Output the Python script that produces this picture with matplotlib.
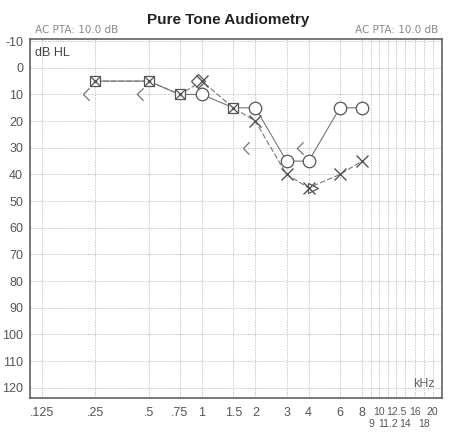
import matplotlib
matplotlib.use('Agg')

import matplotlib.pyplot as plt
from matplotlib.path import Path
from matplotlib.ticker import FixedLocator, FixedFormatter

# audiogram values (kHz / dB HL)
freqs = [0.25, 0.5, 0.75, 1, 1.5, 2, 3, 4, 6, 8]
right_air = [5, 5, 10, 10, 15, 15, 35, 35, 15, 15]
left_air = [5, 5, 10, 5, 15, 20, 40, 45, 40, 35]

bone_freqs = [0.25, 0.5, 2, 4]
right_bone = [10, 10, 30, 30]

extra_freqs = [1, 4]
extra_vals = [5, 45]

tick_freqs = [0.125, 0.25, 0.5, 0.75, 1, 1.5, 2, 3, 4, 6, 8, 10, 12.5, 16, 20]
tick_labels = ['.125', '.25', '.5', '.75', '1', '1.5', '2', '3', '4', '6', '8',
               '10', '12.5', '16', '20']
minor_freqs = [9, 11.2, 14, 18]
minor_labels = ['9', '11.2', '14', '18']
db_ticks = list(range(-10, 121, 10))

plt.rcParams['font.family'] = ['Liberation Sans', 'DejaVu Sans']

fig = plt.figure(figsize=(4.57, 4.38), dpi=100)
ax = fig.add_axes([0.0656, 0.0902, 0.9015, 0.8208])

ax.set_xscale('log')
ax.set_xlim(0.107, 22.6)
ax.set_ylim(124, -10.8)

ax.xaxis.set_major_locator(FixedLocator(tick_freqs))
ax.xaxis.set_major_formatter(FixedFormatter(tick_labels))
ax.xaxis.set_minor_locator(FixedLocator(minor_freqs))
ax.xaxis.set_minor_formatter(FixedFormatter(minor_labels))
ax.set_yticks(db_ticks)
ax.set_yticklabels([str(v) for v in db_ticks])

ax.tick_params(axis='both', which='both', length=0, labelsize=9, colors='#555555')
ax.tick_params(axis='x', which='major', pad=6)
ax.tick_params(axis='x', which='minor', pad=15, labelsize=7.5)
ax.tick_params(axis='y', pad=5)

# the crowded high-frequency labels get a smaller size
for f, lab in zip(tick_freqs, ax.get_xticklabels()):
    if f >= 10:
        lab.set_fontsize(7.5)

ax.grid(True, which='both', color='#b8b8b8', linestyle=(0, (1.5, 1.5)), linewidth=0.6)
for s in ax.spines.values():
    s.set_color('#555555')
    s.set_linewidth(1.1)

ink = '#555555'

# connecting lines
ax.plot(freqs, right_air, color='#777777', lw=0.8, zorder=2)
ax.plot(freqs, left_air, color='#777777', lw=0.8, ls=(0, (5, 2)), zorder=2)

# markers: square+x where both ears coincide
same = [i for i in range(len(freqs)) if right_air[i] == left_air[i]]
diff = [i for i in range(len(freqs)) if right_air[i] != left_air[i]]
ax.plot([freqs[i] for i in diff], [right_air[i] for i in diff], 'o', ms=9,
        mfc='white', mec=ink, mew=0.9, zorder=3)
ax.plot([freqs[i] for i in diff], [left_air[i] for i in diff], 'x', ms=9,
        mec=ink, mew=1.0, zorder=4)
ax.plot([freqs[i] for i in same], [right_air[i] for i in same], 's', ms=7.5,
        mfc='white', mec=ink, mew=0.9, zorder=3)
ax.plot([freqs[i] for i in same], [right_air[i] for i in same], 'x', ms=7.5,
        mec=ink, mew=0.9, zorder=4)
ax.plot([freqs[i] for i in same], [right_air[i] for i in same], '.', ms=3,
        color=ink, zorder=5)

# bone conduction chevrons, drawn left of the frequency
chevron = Path([(0.5, 1), (-0.5, 0), (0.5, -1)],
               [Path.MOVETO, Path.LINETO, Path.LINETO])
ax.plot([f * 0.89 for f in bone_freqs], right_bone, ls='none', marker=chevron,
        ms=9, mfc='none', mec='#777777', mew=0.9, zorder=3)

ax.plot([extra_freqs[0] * 0.95], [extra_vals[0]], ls='none', marker='D', ms=7,
        mfc='white', mec=ink, mew=0.9, zorder=3)
ax.plot([extra_freqs[1] * 1.06], [extra_vals[1]], ls='none', marker='>', ms=7,
        mfc='white', mec=ink, mew=0.9, zorder=3)

ax.text(0.012, 0.962, 'dB HL', transform=ax.transAxes, fontsize=9,
        color='#444444', ha='left', va='center')
ax.text(0.982, 0.04, 'kHz', transform=ax.transAxes, fontsize=9,
        color='#666666', ha='right', va='center')

fig.text(0.5, 0.955, 'Pure Tone Audiometry', fontsize=11, fontweight='bold',
         color='#222222', ha='center', va='center')
fig.text(0.077, 0.932, 'AC PTA: 10.0 dB', fontsize=7.5, family='DejaVu Sans',
         color='#888888', ha='left', va='center')
fig.text(0.958, 0.932, 'AC PTA: 10.0 dB', fontsize=7.5, family='DejaVu Sans',
         color='#888888', ha='right', va='center')

fig.savefig('out.png', dpi=100)
